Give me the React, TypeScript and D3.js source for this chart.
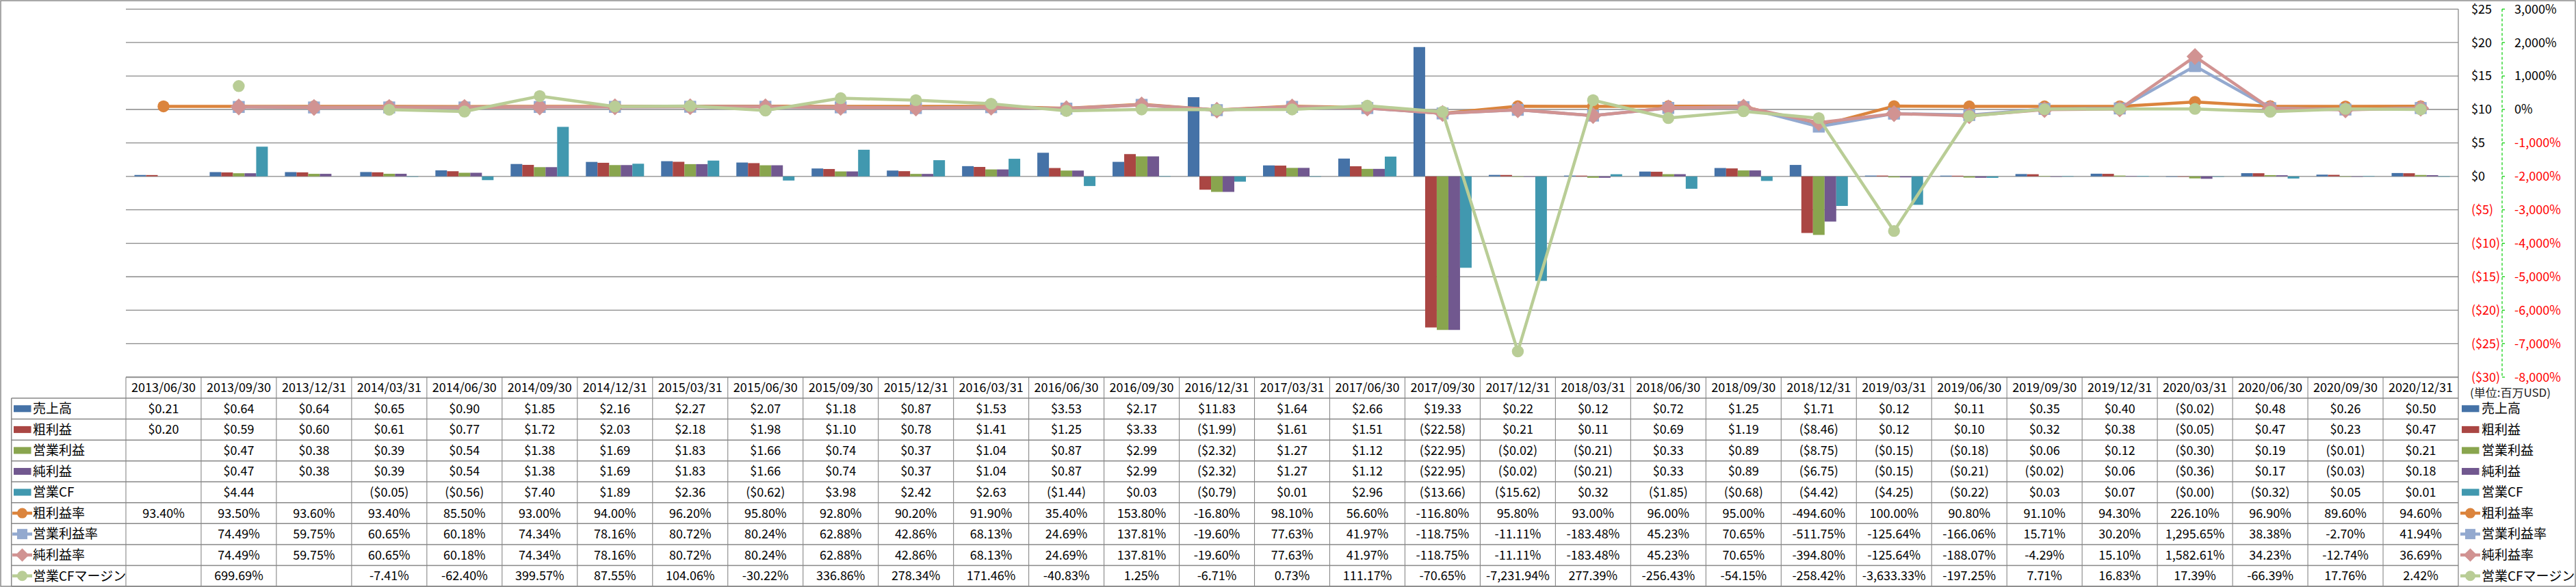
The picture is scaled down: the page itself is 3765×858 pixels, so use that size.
import React from "react";
import * as d3 from "d3";

const dates = [
  "2013/06/30", "2013/09/30", "2013/12/31", "2014/03/31", "2014/06/30", "2014/09/30", "2014/12/31",
  "2015/03/31", "2015/06/30", "2015/09/30", "2015/12/31", "2016/03/31", "2016/06/30", "2016/09/30",
  "2016/12/31", "2017/03/31", "2017/06/30", "2017/09/30", "2017/12/31", "2018/03/31", "2018/06/30",
  "2018/09/30", "2018/12/31", "2019/03/31", "2019/06/30", "2019/09/30", "2019/12/31", "2020/03/31",
  "2020/06/30", "2020/09/30", "2020/12/31",
];

const sales = [0.21, 0.64, 0.64, 0.65, 0.90, 1.85, 2.16, 2.27, 2.07, 1.18, 0.87, 1.53, 3.53, 2.17, 11.83, 1.64, 2.66, 19.33, 0.22, 0.12, 0.72, 1.25, 1.71, 0.12, 0.11, 0.35, 0.40, -0.02, 0.48, 0.26, 0.50];
const grossProfit = [0.20, 0.59, 0.60, 0.61, 0.77, 1.72, 2.03, 2.18, 1.98, 1.10, 0.78, 1.41, 1.25, 3.33, -1.99, 1.61, 1.51, -22.58, 0.21, 0.11, 0.69, 1.19, -8.46, 0.12, 0.10, 0.32, 0.38, -0.05, 0.47, 0.23, 0.47];
const operatingIncome = [null, 0.47, 0.38, 0.39, 0.54, 1.38, 1.69, 1.83, 1.66, 0.74, 0.37, 1.04, 0.87, 2.99, -2.32, 1.27, 1.12, -22.95, -0.02, -0.21, 0.33, 0.89, -8.75, -0.15, -0.18, 0.06, 0.12, -0.30, 0.19, -0.01, 0.21];
const netIncome = [null, 0.47, 0.38, 0.39, 0.54, 1.38, 1.69, 1.83, 1.66, 0.74, 0.37, 1.04, 0.87, 2.99, -2.32, 1.27, 1.12, -22.95, -0.02, -0.21, 0.33, 0.89, -6.75, -0.15, -0.21, -0.02, 0.06, -0.36, 0.17, -0.03, 0.18];
const operatingCF = [null, 4.44, null, -0.05, -0.56, 7.40, 1.89, 2.36, -0.62, 3.98, 2.42, 2.63, -1.44, 0.03, -0.79, 0.01, 2.96, -13.66, -15.62, 0.32, -1.85, -0.68, -4.42, -4.25, -0.22, 0.03, 0.07, -0.001, -0.32, 0.05, 0.01];

const grossMargin = [93.40, 93.50, 93.60, 93.40, 85.50, 93.00, 94.00, 96.20, 95.80, 92.80, 90.20, 91.90, 35.40, 153.80, -16.80, 98.10, 56.60, -116.80, 95.80, 93.00, 96.00, 95.00, -494.60, 100.00, 90.80, 91.10, 94.30, 226.10, 96.90, 89.60, 94.60];
const operatingMargin = [null, 74.49, 59.75, 60.65, 60.18, 74.34, 78.16, 80.72, 80.24, 62.88, 42.86, 68.13, 24.69, 137.81, -19.60, 77.63, 41.97, -118.75, -11.11, -183.48, 45.23, 70.65, -511.75, -125.64, -166.06, 15.71, 30.20, 1295.65, 38.38, -2.70, 41.94];
const netMargin = [null, 74.49, 59.75, 60.65, 60.18, 74.34, 78.16, 80.72, 80.24, 62.88, 42.86, 68.13, 24.69, 137.81, -19.60, 77.63, 41.97, -118.75, -11.11, -183.48, 45.23, 70.65, -394.80, -125.64, -188.07, -4.29, 15.10, 1582.61, 34.23, -12.74, 36.69];
const cfMargin = [null, 699.69, null, -7.41, -62.40, 399.57, 87.55, 104.06, -30.22, 336.86, 278.34, 171.46, -40.83, 1.25, -6.71, 0.73, 111.17, -70.65, -7231.94, 277.39, -256.43, -54.15, -258.42, -3633.33, -197.25, 7.71, 16.83, 17.39, -66.39, 17.76, 2.42];

const dollarTicks = [25, 20, 15, 10, 5, 0, -5, -10, -15, -20, -25, -30];
const percentTicks = [3000, 2000, 1000, 0, -1000, -2000, -3000, -4000, -5000, -6000, -7000, -8000];
const unitLabel = "(単位:百万USD)";

const barSeries = [
  { name: "売上高", values: sales, color: "#4572A7" },
  { name: "粗利益", values: grossProfit, color: "#AA4643" },
  { name: "営業利益", values: operatingIncome, color: "#89A54E" },
  { name: "純利益", values: netIncome, color: "#71588F" },
  { name: "営業CF", values: operatingCF, color: "#4198AF" },
];
const lineSeries = [
  { name: "粗利益率", values: grossMargin, color: "#DB843D", marker: "circle" },
  { name: "営業利益率", values: operatingMargin, color: "#93A9CF", marker: "square" },
  { name: "純利益率", values: netMargin, color: "#D19392", marker: "diamond" },
  { name: "営業CFマージン", values: cfMargin, color: "#B9CD96", marker: "circle" },
];

const W = 3765;
const H = 858;
const plotLeft = 184;
const plotRight = 3593;
const plotTop = 13.3;
const plotBottom = 551.2;
const tableTop = 551.5;
const rowH = 30.55;
const labelLeft = 16.7;
const FONT = "'Noto Sans CJK JP', 'Noto Sans', sans-serif";
const GRID = "#878787";

const fmtDollar = (v) => (v < 0 ? `($${Math.abs(v).toFixed(2)})` : `$${v.toFixed(2)}`);
const fmtNum = d3.format(",.2f");
const fmtPct = (v) => (v < 0 ? "-" : "") + fmtNum(Math.abs(v)) + "%";
const fmtTickDollar = (v) => (v < 0 ? `($${-v})` : `$${v}`);
const fmtTickPct = (v) => (v < 0 ? "-" : "") + d3.format(",")(Math.abs(v)) + "%";

function Marker({ type, x, y, color, s }) {
  if (type === "circle") return <circle cx={x} cy={y} r={s} fill={color} />;
  if (type === "square")
    return <rect x={x - s} y={y - s} width={2 * s} height={2 * s} fill={color} />;
  const d = s * 1.4;
  return (
    <polygon
      points={`${x},${y - d} ${x + d},${y} ${x},${y + d} ${x - d},${y}`}
      fill={color}
    />
  );
}

export default function App() {
  const x = d3.scaleBand<string>().domain(dates).range([plotLeft, plotRight]).padding(0);
  const bw = x.bandwidth();
  const inner = d3
    .scaleBand<string>()
    .domain(barSeries.map((s) => s.name))
    .range([12.5 * (bw / 110), bw - 12.5 * (bw / 110)])
    .padding(0);
  const yL = d3.scaleLinear().domain([-30, 25]).range([plotBottom, plotTop]);
  const yR = d3.scaleLinear().domain([-8000, 3000]).range([plotBottom, plotTop]);
  const xc = (i) => (x(dates[i]) as number) + bw / 2;

  const line = d3
    .line<number | null>()
    .defined((v) => v != null)
    .x((_, i) => xc(i))
    .y((v) => yR(v as number));

  const rows = [
    ...barSeries.map((s) => ({ ...s, kind: "bar", fmt: fmtDollar })),
    ...lineSeries.map((s) => ({ ...s, kind: "line", fmt: fmtPct })),
  ];
  const rowY = (r) => tableTop + rowH * (r + 1);

  return (
    <svg
      width={W}
      height={H}
      style={{ position: "absolute", left: 0, top: 0, display: "block", background: "#fff" }}
      fontFamily={FONT}
    >
      <rect x={1} y={1} width={W - 2} height={H - 2} fill="#fff" stroke="#8c8c8c" strokeWidth={1.5} />

      {/* gridlines */}
      {dollarTicks.map((t) => (
        <line key={t} x1={plotLeft} x2={plotRight} y1={yL(t)} y2={yL(t)} stroke={GRID} strokeWidth={1.3} />
      ))}
      <line x1={plotRight} x2={plotRight} y1={plotTop} y2={tableTop + rowH * 10} stroke={GRID} strokeWidth={1.3} />

      {/* bars */}
      {barSeries.map((s) =>
        s.values.map((v, i) =>
          v == null ? null : (
            <rect
              key={s.name + i}
              x={(x(dates[i]) as number) + (inner(s.name) as number)}
              width={inner.bandwidth()}
              y={Math.min(yL(v), yL(0))}
              height={Math.max(0.6, Math.abs(yL(v) - yL(0)))}
              fill={s.color}
            />
          )
        )
      )}

      {/* lines */}
      {lineSeries.map((s) => (
        <g key={s.name}>
          <path d={line(s.values) || ""} fill="none" stroke={s.color} strokeWidth={4.5} strokeLinejoin="round" />
          {s.values.map((v, i) =>
            v == null ? null : (
              <Marker
                key={i}
                type={s.marker}
                x={xc(i)}
                y={yR(v)}
                color={s.color}
                s={s.marker === "diamond" ? 8.8 : 8.7}
              />
            )
          )}
        </g>
      ))}

      {/* right axes */}
      <line x1={3657} x2={3657} y1={plotTop} y2={plotBottom} stroke="#00CC00" strokeWidth={1.2} strokeDasharray="4,3" />
      {dollarTicks.map((t) => (
        <g key={"t" + t}>
          <line x1={3657} x2={3661} y1={yL(t)} y2={yL(t)} stroke="#00CC00" strokeWidth={1.2} />
          <text x={3612} y={yL(t)} dy="0.35em" fontSize={18} fill={t < 0 ? "#FF0000" : "#000"}>
            {fmtTickDollar(t)}
          </text>
        </g>
      ))}
      {percentTicks.map((t) => (
        <text key={"p" + t} x={3675} y={yR(t)} dy="0.35em" fontSize={18} fill={t < 0 ? "#FF0000" : "#000"}>
          {fmtTickPct(t)}
        </text>
      ))}
      <text x={3610} y={574} dy="0.35em" fontSize={16} fill="#222" textLength={118} lengthAdjust="spacingAndGlyphs">
        {unitLabel}
      </text>

      {/* table */}
      <line x1={plotLeft} x2={plotRight} y1={tableTop} y2={tableTop} stroke={GRID} strokeWidth={1.5} />
      {rows.map((r, k) => (
        <line key={"h" + k} x1={labelLeft} x2={plotRight} y1={rowY(k)} y2={rowY(k)} stroke={GRID} strokeWidth={1.5} />
      ))}
      <line x1={labelLeft} x2={plotRight} y1={rowY(rows.length)} y2={rowY(rows.length)} stroke={GRID} strokeWidth={1.5} />
      <line x1={labelLeft} x2={labelLeft} y1={rowY(0)} y2={rowY(rows.length)} stroke={GRID} strokeWidth={1.5} />
      {dates.map((d) => (
        <line
          key={"v" + d}
          x1={x(d) as number}
          x2={x(d) as number}
          y1={tableTop}
          y2={rowY(rows.length)}
          stroke={GRID}
          strokeWidth={1.1}
        />
      ))}
      {dates.map((d, i) => (
        <text key={"d" + d} x={xc(i)} y={tableTop + rowH / 2} dy="0.36em" textAnchor="middle" fontSize={18} fill="#000">
          {d}
        </text>
      ))}
      {rows.map((r, k) => {
        const cy = rowY(k) + rowH / 2;
        return (
          <g key={"r" + k}>
            {r.values.map((v, i) =>
              v == null ? null : (
                <text key={i} x={xc(i)} y={cy} dy="0.36em" textAnchor="middle" fontSize={18} fill="#000">
                  {r.fmt(v)}
                </text>
              )
            )}
            {[{ kx: 20, tx: 48 }, { kx: 3598, tx: 3627 }].map((p, j) => (
              <g key={j}>
                {r.kind === "bar" ? (
                  <rect x={p.kx} y={cy - 5} width={25.5} height={10} fill={r.color} />
                ) : (
                  <g>
                    <line x1={p.kx - 2} x2={p.kx + 27} y1={cy} y2={cy} stroke={r.color} strokeWidth={4.5} />
                    <Marker type={r.marker} x={p.kx + 12.5} y={cy} color={r.color} s={r.marker === "diamond" ? 7 : 7.5} />
                  </g>
                )}
                <text x={p.tx} y={cy} dy="0.36em" fontSize={19} fill="#000">
                  {r.name}
                </text>
              </g>
            ))}
          </g>
        );
      })}
    </svg>
  );
}
